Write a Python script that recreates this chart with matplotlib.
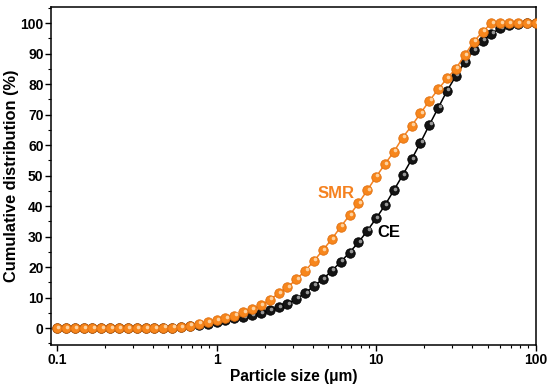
import numpy as np
import matplotlib
matplotlib.use('Agg')
import matplotlib.pyplot as plt
from matplotlib.ticker import MultipleLocator, LogLocator, NullFormatter, FixedLocator, FixedFormatter
from matplotlib.transforms import offset_copy

plt.rcParams['font.family'] = ['Liberation Sans', 'DejaVu Sans']
plt.rcParams['font.weight'] = 'bold'

# particle sizes (um), 18 points per decade from 0.1 to 100
size = 10 ** np.linspace(-1, 2, 55)

smr = [0, 0, 0, 0, 0, 0, 0, 0, 0, 0, 0, 0, 0.1, 0.2,
       0.3, 0.8, 1.4, 2.0, 2.6, 3.3, 4.1, 5.2, 6.2, 7.5, 9.3, 11.4, 13.4, 16.0,
       18.8, 22.1, 25.6, 29.2, 33.2, 37.0, 40.9, 45.2, 49.6, 53.8, 57.8, 62.5,
       66.3, 70.4, 74.5, 78.3, 81.9, 85.1, 89.5, 93.9, 97.1, 100, 100, 100,
       100, 100, 100]
ce = [0, 0, 0, 0, 0, 0, 0, 0, 0, 0, 0, 0, 0.1, 0.2,
      0.3, 0.6, 1.0, 1.5, 2.1, 2.6, 3.2, 3.6, 4.3, 4.9, 5.8, 6.8, 7.9, 9.6,
      11.5, 13.9, 16.1, 18.8, 21.7, 24.8, 28.1, 31.9, 36.0, 40.3, 45.2, 50.2,
      55.3, 60.8, 66.6, 72.2, 77.8, 82.7, 87.2, 91.1, 94.2, 96.5, 98.3, 99.3,
      99.8, 100, 100]

fig = plt.figure(figsize=(5.5, 3.85), dpi=100)
ax = fig.add_axes([0.093, 0.104, 0.881, 0.878])


def balls(x, y, line, fill, edge, hi, z):
    ax.plot(x, y, '-', color=line, lw=1.1, zorder=z)
    ax.plot(x, y, 'o', ms=6.8, mfc=fill, mec=edge, mew=0.6, zorder=z + 0.1)
    tr = offset_copy(ax.transData, fig=fig, x=1.0, y=1.1, units='points')
    ax.plot(x, y, 'o', ms=2.6, mfc=hi, mec='none', alpha=0.85,
            transform=tr, zorder=z + 0.2)


balls(size, ce, 'black', '#141414', '#000000', '#b0b0b0', 2)
balls(size, smr, '#F58220', '#F7861C', '#E07010', '#FFE0B8', 3)

ax.text(5.6, 44, 'SMR', color='#F58220', fontsize=12, fontweight='bold',
        ha='center', va='center', zorder=5)
ax.text(12.0, 31.5, 'CE', color='black', fontsize=12, fontweight='bold',
        ha='center', va='center', zorder=5)

ax.set_xscale('log')
ax.set_xlim(0.092, 100)
ax.set_ylim(-5.5, 105.3)
ax.xaxis.set_major_locator(FixedLocator([0.1, 1, 10, 100]))
ax.xaxis.set_major_formatter(FixedFormatter(['0.1', '1', '10', '100']))
ax.xaxis.set_minor_locator(LogLocator(base=10, subs=np.arange(2, 10)))
ax.xaxis.set_minor_formatter(NullFormatter())
ax.set_yticks(range(0, 101, 10))
ax.yaxis.set_minor_locator(MultipleLocator(5))

ax.tick_params(which='major', direction='out', length=4, width=1, labelsize=10, pad=1.5)
ax.tick_params(which='minor', direction='out', length=2.2, width=0.8)
for lab in ax.get_xticklabels() + ax.get_yticklabels():
    lab.set_fontweight('bold')
for s in ax.spines.values():
    s.set_linewidth(1.1)

ax.set_xlabel('Particle size (μm)', fontsize=11.2, fontweight='bold', labelpad=2)
ax.set_ylabel('Cumulative distribution (%)', fontsize=11.8, fontweight='bold', labelpad=1)

fig.savefig('out.png', dpi=100)
